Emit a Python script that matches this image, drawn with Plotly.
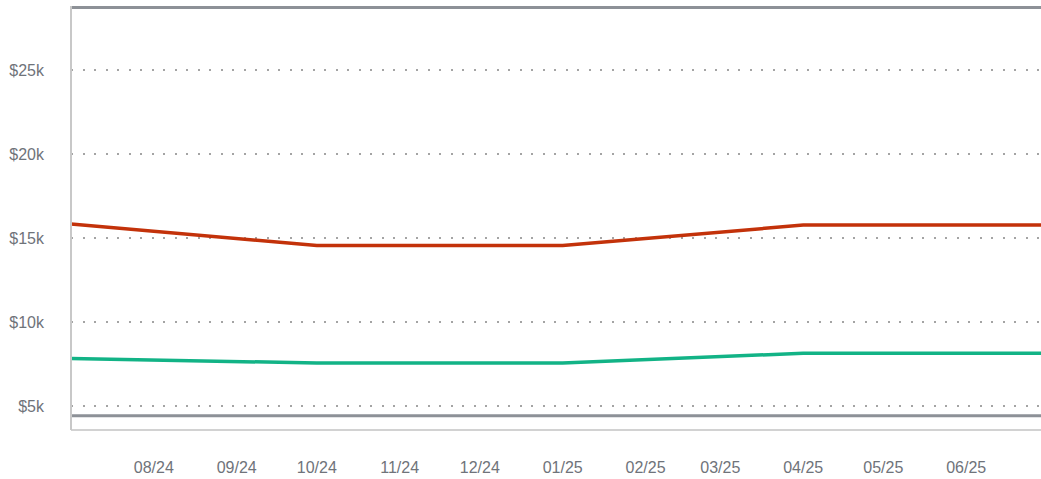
import plotly.graph_objects as go

dates = ["2024-07-01", "2024-10-01", "2025-01-01", "2025-04-01", "2025-07-01"]
series_red = [15830, 14550, 14550, 15770, 15770]
series_green = [7820, 7560, 7560, 8140, 8140]

tick_dates = ["2024-08-01", "2024-09-01", "2024-10-01", "2024-11-01", "2024-12-01",
              "2025-01-01", "2025-02-01", "2025-03-01", "2025-04-01", "2025-05-01",
              "2025-06-01"]
tick_labels = ["08/24", "09/24", "10/24", "11/24", "12/24", "01/25", "02/25",
               "03/25", "04/25", "05/25", "06/25"]
y_ticks = [5000, 10000, 15000, 20000, 25000]
y_labels = ["$5k", "$10k", "$15k", "$20k", "$25k"]

fig = go.Figure()
fig.add_trace(go.Scatter(x=dates, y=series_red, mode="lines",
                         line=dict(color="#c3320a", width=3.5), hoverinfo="skip"))
fig.add_trace(go.Scatter(x=dates, y=series_green, mode="lines",
                         line=dict(color="#12b386", width=3.5), hoverinfo="skip"))

font = dict(family="Liberation Sans, Arial, sans-serif", size=16, color="#6f737a")

fig.update_layout(
    width=1041, height=479,
    margin=dict(l=71, r=0, t=6, b=49, autoexpand=False),
    paper_bgcolor="white", plot_bgcolor="white",
    showlegend=False,
    xaxis=dict(
        type="date",
        range=["2024-07-01", "2025-06-29"],
        tickvals=tick_dates, ticktext=tick_labels,
        showgrid=False, zeroline=False, showline=False,
        tickfont=font, ticks="", ticklabelstandoff=26,
        automargin=False,
    ),
    yaxis=dict(
        range=[3571, 28810],
        tickvals=y_ticks, ticktext=y_labels,
        showgrid=True, gridcolor="#a4a4a4", gridwidth=2,
        griddash="2px,9.5px",
        zeroline=False, showline=False,
        tickfont=font, ticks="", ticklabelstandoff=26,
        automargin=False,
    ),
    shapes=[
        dict(type="line", xref="paper", yref="paper", x0=0, x1=1,
             y0=1 - 1.5 / 424, y1=1 - 1.5 / 424,
             line=dict(color="#8d9197", width=3), layer="above"),
        dict(type="line", xref="paper", yref="y", x0=0, x1=1,
             y0=4420, y1=4420,
             line=dict(color="#8d9197", width=3), layer="above"),
        dict(type="line", xref="paper", yref="paper", x0=0, x1=1,
             y0=0, y1=0,
             line=dict(color="#d2d2d2", width=2), layer="above"),
        dict(type="line", xref="paper", yref="paper", x0=0, x1=0,
             y0=0, y1=1,
             line=dict(color="#c8c8c8", width=2), layer="above"),
    ],
)

fig.write_html("out.html", config={"displayModeBar": False},
               post_script="document.body.style.margin='0';document.body.style.overflow='hidden';")
